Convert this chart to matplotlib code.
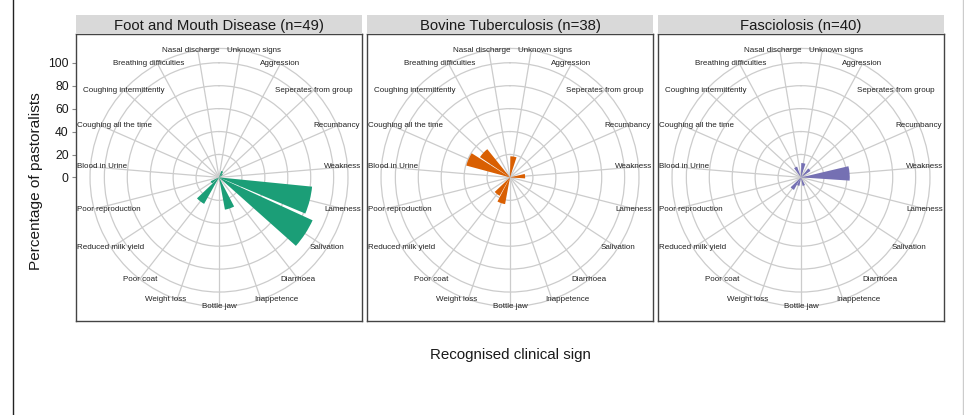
import numpy as np
import matplotlib
matplotlib.use("Agg")
import matplotlib.pyplot as plt
from matplotlib.lines import Line2D

plt.rcParams['font.family'] = ['Liberation Sans', 'DejaVu Sans']

categories = ["Unknown signs", "Aggression", "Seperates from group", "Recumbancy",
              "Weakness", "Lameness", "Salivation", "Diarrhoea", "Inappetence",
              "Bottle jaw", "Weight loss", "Poor coat", "Reduced milk yield",
              "Poor reproduction", "Blood in Urine", "Coughing all the time",
              "Coughing intermittently", "Breathing difficulties", "Nasal discharge"]

panel_titles = ["Foot and Mouth Disease (n=49)", "Bovine Tuberculosis (n=38)", "Fasciolosis (n=40)"]

fmd = [0, 6, 4, 0, 0, 81.6, 89.8, 0, 28.6, 0, 0, 26.5, 8, 0, 0, 0, 0, 0, 0]
btb = [18.4, 0, 0, 0, 13.2, 0, 0, 0, 0, 0, 23.7, 18.4, 0, 0, 0, 39.5, 31.6, 0, 0]
fas = [12.5, 0, 10, 0, 42.5, 0, 0, 0, 7.5, 0, 7.5, 12.5, 0, 0, 0, 0, 0, 10, 0]
series = [fmd, btb, fas]
colors = ["#1B9E77", "#D95F02", "#7570B3"]

y_ticks = [0, 20, 40, 60, 80, 100]
y_max = 100

# horizontal label nudges (pixels), layout only
label_nudge = [13.5, 0, 0, 0, 0, 0, 0, 0, 15, 0, -11, 0, -7, 0, 0, 0, 0, -9, -6.6]

W, H = 964, 415
fig = plt.figure(figsize=(W / 100, H / 100), dpi=100)

def fx(px):
    return px / W

def fy(py):
    return 1 - py / H

panel_x = [75.7, 366.7, 657.7]
pw = 286.6
ptop, pbot = 34.3, 320.5
ph = pbot - ptop
strip_top = 15.0

grid_col = "#CCCCCC"
n = len(categories)
theta = 2 * np.pi * (np.arange(n) + 0.5) / n
rmax = y_max * 0.45 / 0.4

label_items = []
for k in range(3):
    x0 = panel_x[k]
    fr = fig.add_axes([fx(x0), fy(pbot), pw / W, ph / H])
    fr.set_xlim(-1, 1)
    lim = y_max * 0.5 / 0.4
    fr.set_ylim(-lim, lim)
    fr.set_xticks([])
    for s in fr.spines.values():
        s.set_color("#444444")
        s.set_linewidth(1.0)
    if k == 0:
        fr.set_yticks(y_ticks)
        fr.set_yticklabels([str(t) for t in y_ticks], fontsize=8.7, color="#1a1a1a")
        fr.tick_params(axis='y', length=3, width=0.8, color="#888888", pad=2)
    else:
        fr.set_yticks([])
    fr.patch.set_facecolor("white")
    fr.set_zorder(0)

    st = fig.add_axes([fx(x0), fy(ptop), pw / W, (ptop - strip_top) / H])
    st.set_xticks([]); st.set_yticks([])
    st.set_facecolor("#D9D9D9")
    for s in st.spines.values():
        s.set_visible(False)
    st.text(0.5, 0.45, panel_titles[k], ha='center', va='center', fontsize=10.7,
            color="#1a1a1a", transform=st.transAxes)

    cx = x0 + pw / 2
    cy = ptop + ph / 2
    rpx = 0.45 * pw
    pa = fig.add_axes([fx(cx - rpx), fy(cy + rpx), 2 * rpx / W, 2 * rpx / H],
                      projection='polar')
    pa.set_zorder(1)
    pa.patch.set_alpha(0)
    pa.set_theta_zero_location('N')
    pa.set_theta_direction(-1)
    pa.set_ylim(0, rmax)
    pa.set_rgrids([20, 40, 60, 80, 100], labels=[""] * 5)
    pa.set_xticks(theta)
    pa.set_xticklabels([""] * n)
    pa.grid(True, color=grid_col, linewidth=0.9)
    pa.spines['polar'].set_color(grid_col)
    pa.spines['polar'].set_linewidth(0.9)
    pa.tick_params(length=0)
    pa.set_axisbelow(True)
    pa.bar(theta, series[k], width=0.9 * 2 * np.pi / n, color=colors[k],
           edgecolor='none', zorder=3)

    for i, (t, lab) in enumerate(zip(theta, categories)):
        ax_px = cx + rpx * np.sin(t) + label_nudge[i]
        ay_px = cy - rpx * np.cos(t)
        txt = fig.text(fx(ax_px), fy(ay_px), lab, ha='center', va='center',
                       fontsize=5.8, color="#222222", zorder=10)
        label_items.append((txt, ax_px, ay_px, x0, x0 + pw))

# keep theta labels inside their panel horizontally
fig.canvas.draw()
renderer = fig.canvas.get_renderer()
for txt, ax_px, ay_px, left, right in label_items:
    bb = txt.get_window_extent(renderer)
    w = bb.width
    l = ax_px - w / 2
    r = ax_px + w / 2
    shift = 0
    if l < left + 1.5:
        shift = left + 1.5 - l
    elif r > right - 1.0:
        shift = right - 1.0 - r
    if shift:
        txt.set_position((fx(ax_px + shift), fy(ay_px)))

fig.text(fx(36.5), fy(181), "Percentage of pastoralists", rotation=90,
         ha='center', va='center', fontsize=11.1, color="#1a1a1a")
fig.text(fx(510), fy(355), "Recognised clinical sign", ha='center', va='center',
         fontsize=10.9, color="#1a1a1a")

fig.add_artist(Line2D([fx(12.7), fx(12.7)], [0, 1], color="#222222", linewidth=1.0))
fig.add_artist(Line2D([fx(963.3), fx(963.3)], [0, 1], color="#CCCCCC", linewidth=1.0))

fig.savefig("out.png", dpi=100)
